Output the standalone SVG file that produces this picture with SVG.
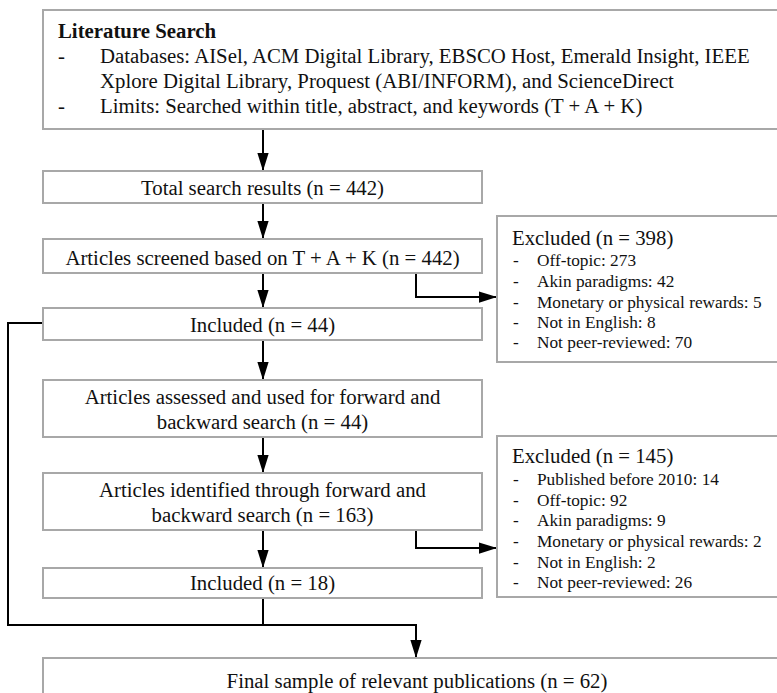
<svg xmlns="http://www.w3.org/2000/svg" width="777" height="693" viewBox="0 0 777 693">
<style>
.box{fill:#fff;stroke:#a8a8a8;stroke-width:2}
.t{font-family:"Liberation Serif","Times New Roman",serif;font-size:20.8px;fill:#111}
.c{text-anchor:middle}
.b{font-weight:bold}
.s{font-family:"Liberation Serif","Times New Roman",serif;font-size:17.3px;fill:#111}
.ln{fill:none;stroke:#000;stroke-width:2}
</style>
<defs>
<marker id="ah" markerUnits="userSpaceOnUse" markerWidth="18" markerHeight="12" viewBox="0 0 16 10" refX="16" refY="5" orient="auto">
<path d="M0,0 L16,5 L0,10 Z" fill="#000"/>
</marker>
</defs>
<rect width="777" height="693" fill="#fff"/>
<g id="connectors">
<line class="ln" x1="263" y1="129" x2="263" y2="171" marker-end="url(#ah)"/>
<line class="ln" x1="263" y1="203" x2="263" y2="239" marker-end="url(#ah)"/>
<line class="ln" x1="263" y1="273" x2="263" y2="308" marker-end="url(#ah)"/>
<line class="ln" x1="263" y1="340" x2="263" y2="380" marker-end="url(#ah)"/>
<line class="ln" x1="263" y1="437" x2="263" y2="473" marker-end="url(#ah)"/>
<line class="ln" x1="263" y1="530" x2="263" y2="568" marker-end="url(#ah)"/>
<polyline class="ln" points="416,273 416,297 497,297" marker-end="url(#ah)"/>
<polyline class="ln" points="416,530 416,548 497,548" marker-end="url(#ah)"/>
<polyline class="ln" points="43,323 8,323 8,625 416,625 416,658" marker-end="url(#ah)"/>
<line class="ln" x1="263" y1="598" x2="263" y2="625"/>
</g>
<g id="literature-search">
<rect class="box" x="43" y="10" width="760" height="119"/>
<text class="t b" x="58" y="38">Literature Search</text>
<text class="t" x="58" y="63">-</text>
<text class="t" x="100" y="63">Databases: AISel, ACM Digital Library, EBSCO Host, Emerald Insight, IEEE</text>
<text class="t" x="100" y="88">Xplore Digital Library, Proquest (ABI/INFORM), and ScienceDirect</text>
<text class="t" x="58" y="113">-</text>
<text class="t" x="100" y="113">Limits: Searched within title, abstract, and keywords (T + A + K)</text>
</g>
<g id="total">
<rect class="box" x="43" y="171" width="439" height="32"/>
<text class="t c" x="262.5" y="195">Total search results (n = 442)</text>
</g>
<g id="screened">
<rect class="box" x="43" y="239" width="439" height="34"/>
<text class="t c" x="262.5" y="265">Articles screened based on T + A + K (n = 442)</text>
</g>
<g id="included44">
<rect class="box" x="43" y="308" width="439" height="32"/>
<text class="t c" x="262.5" y="332">Included (n = 44)</text>
</g>
<g id="assessed">
<rect class="box" x="43" y="380" width="439" height="57"/>
<text class="t c" x="262.5" y="404">Articles assessed and used for forward and</text>
<text class="t c" x="262.5" y="429">backward search (n = 44)</text>
</g>
<g id="identified">
<rect class="box" x="43" y="473" width="439" height="57"/>
<text class="t c" x="262.5" y="497">Articles identified through forward and</text>
<text class="t c" x="262.5" y="522">backward search (n = 163)</text>
</g>
<g id="included18">
<rect class="box" x="43" y="568" width="439" height="30"/>
<text class="t c" x="262.5" y="590">Included (n = 18)</text>
</g>
<g id="final">
<rect class="box" x="43" y="658" width="748" height="50"/>
<text class="t c" x="417" y="688">Final sample of relevant publications (n = 62)</text>
</g>
<g id="excluded398">
<rect class="box" x="497" y="216" width="300" height="146"/>
<text class="t" x="512" y="245">Excluded (n = 398)</text>
<g class="s">
<text x="513" y="266">-</text><text x="537" y="266">Off-topic: 273</text>
<text x="513" y="287">-</text><text x="537" y="287">Akin paradigms: 42</text>
<text x="513" y="308">-</text><text x="537" y="308">Monetary or physical rewards: 5</text>
<text x="513" y="328">-</text><text x="537" y="328">Not in English: 8</text>
<text x="513" y="348">-</text><text x="537" y="348">Not peer-reviewed: 70</text>
</g>
</g>
<g id="excluded145">
<rect class="box" x="497" y="436" width="300" height="161"/>
<text class="t" x="512" y="463">Excluded (n = 145)</text>
<g class="s">
<text x="513" y="485">-</text><text x="537" y="485">Published before 2010: 14</text>
<text x="513" y="506">-</text><text x="537" y="506">Off-topic: 92</text>
<text x="513" y="526">-</text><text x="537" y="526">Akin paradigms: 9</text>
<text x="513" y="547">-</text><text x="537" y="547">Monetary or physical rewards: 2</text>
<text x="513" y="568">-</text><text x="537" y="568">Not in English: 2</text>
<text x="513" y="588">-</text><text x="537" y="588">Not peer-reviewed: 26</text>
</g>
</g>
</svg>
